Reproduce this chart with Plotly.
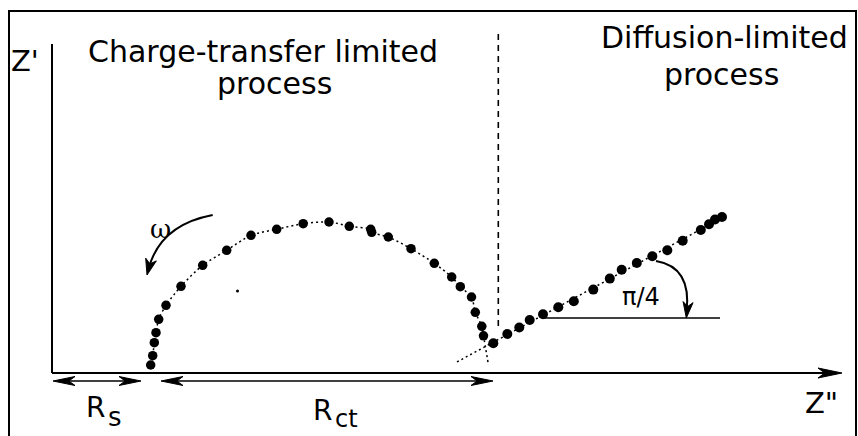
import numpy as np
import plotly.graph_objects as go

# ---- Nyquist diagram data (arbitrary impedance units, origin at the axes corner) ----
# charge-transfer semicircle
semi_x = [98.7, 100.7, 102.3, 104.0, 106.7, 114.0, 129.0, 150.7, 174.7, 199.0, 224.7, 251.2,
          277.0, 297.3, 318.7, 319.7, 336.3, 359.0, 382.3, 399.7, 408.3, 419.5, 423.3, 429.8, 431.5]
semi_y = [8.0, 17.3, 30.3, 40.3, 53.7, 67.7, 86.7, 107.7, 122.7, 137.7, 143.7, 149.3,
          151.0, 146.7, 143.7, 140.7, 136.0, 124.3, 109.7, 96.0, 86.3, 76.0, 60.7, 46.7, 37.2]
semi_tail = (436.3, 9.0)          # where the fitted arc meets the real axis

# diffusion (Warburg) tail
warb_x = [441.3, 455.3, 467.3, 477.7, 491.0, 506.3, 521.8, 541.3, 557.8, 569.7, 584.8, 600.3,
          615.3, 630.7, 648.8, 657.0, 663.0, 670.0]
warb_y = [29.7, 39.0, 45.5, 53.0, 58.7, 65.7, 71.8, 83.4, 94.4, 103.3, 110.0, 116.7,
          122.8, 132.3, 143.0, 148.8, 153.5, 156.0]
warb_fit_span = (405.0, 673.0)

stray_x = [185.5]
stray_y = [82.0]

# resistances marked under the real axis
rs_span = (1.0, 89.0)
rct_span = (109.0, 441.0)
regime_boundary = 446.3           # split between the two regimes
angle_ref_x = (491.0, 668.0)      # horizontal reference for the pi/4 angle
angle_ref_y = 55.0

# ---- canvas ----
W, H = 858, 436
X0, Y0 = 52, 373                  # canvas position of the axes corner
BLACK = "black"
SANS = "DejaVu Sans"

fig = go.Figure()

# fitted curves
fig.add_trace(go.Scatter(
    x=semi_x + [semi_tail[0]], y=semi_y + [semi_tail[1]], mode="lines",
    line=dict(color=BLACK, width=1.5, dash="2px,3px", shape="spline", smoothing=0.8),
    hoverinfo="skip"))
slope, icpt = np.polyfit(warb_x, warb_y, 1)
fx = np.array(warb_fit_span)
fig.add_trace(go.Scatter(
    x=fx, y=slope * fx + icpt, mode="lines",
    line=dict(color=BLACK, width=1.5, dash="2px,3px"), hoverinfo="skip"))

# measured points
fig.add_trace(go.Scatter(x=semi_x, y=semi_y, mode="markers",
                         marker=dict(color=BLACK, size=9.5, line=dict(width=0))))
fig.add_trace(go.Scatter(x=warb_x, y=warb_y, mode="markers",
                         marker=dict(color=BLACK, size=10, line=dict(width=0))))
fig.add_trace(go.Scatter(x=stray_x, y=stray_y, mode="markers",
                         marker=dict(color=BLACK, size=3, line=dict(width=0))))


def head(tip, frm, length, half):
    """Barbed arrowhead at `tip`, pointing away from `frm`."""
    tx, ty = tip
    dx, dy = tx - frm[0], ty - frm[1]
    n = np.hypot(dx, dy)
    ux, uy = dx / n, dy / n
    nx_, ny_ = -uy, ux
    bx, by = tx - length * ux, ty - length * uy
    kx, ky = tx - 0.72 * length * ux, ty - 0.72 * length * uy
    return (f"M {tx},{ty} L {bx + half * nx_},{by + half * ny_} L {kx},{ky} "
            f"L {bx - half * nx_},{by - half * ny_} Z")


shapes = []


def line(x0, y0, x1, y1, width=1.5, dash="solid"):
    shapes.append(dict(type="line", xref="x", yref="y", x0=x0, y0=y0, x1=x1, y1=y1,
                       line=dict(color=BLACK, width=width, dash=dash)))


def filled(path):
    shapes.append(dict(type="path", xref="x", yref="y", path=path, fillcolor=BLACK,
                       line=dict(color=BLACK, width=1)))


# outer frame
shapes.append(dict(type="rect", xref="x", yref="y", x0=9 - X0, x1=856 - X0, y0=Y0 - 11, y1=-90,
                   line=dict(color=BLACK, width=2)))

# axes
axis_end = 790.0
line(0, 0, 0, 329, width=2)
line(0, 0, axis_end - 8, 0, width=2)
filled(head((axis_end, 0), (0, 0), 24, 5))

# Rs and Rct spans
yr = -8
line(rs_span[0] + 6, yr, rs_span[1] - 6, yr)
filled(head((rs_span[0], yr), (rs_span[1], yr), 22, 4.5))
filled(head((rs_span[1], yr), (rs_span[0], yr), 22, 4.5))
line(rct_span[0] + 6, yr, rct_span[1] - 6, yr)
filled(head((rct_span[0], yr), (rct_span[1], yr), 22, 4.5))
filled(head((rct_span[1], yr), (rct_span[0], yr), 22, 4.5))

# regime boundary
line(regime_boundary, 47, regime_boundary, 341, width=1.6, dash="6px,5px")

# angle reference and its curved arrow
line(angle_ref_x[0], angle_ref_y, angle_ref_x[1], angle_ref_y)
a0, a1, a2 = (604.0, 112.0), (640.0, 106.0), (634.5, angle_ref_y + 6)
shapes.append(dict(type="path", xref="x", yref="y",
                   path=f"M {a0[0]},{a0[1]} Q {a1[0]},{a1[1]} {a2[0]},{a2[1]}",
                   line=dict(color=BLACK, width=2)))
filled(head((634.3, angle_ref_y), a1, 16, 5))

# frequency direction arrow
w0, w1, w2 = (160.7, 158.0), (108.0, 148.0), (96.5, 104.0)
shapes.append(dict(type="path", xref="x", yref="y",
                   path=f"M {w0[0]},{w0[1]} Q {w1[0]},{w1[1]} {w2[0]},{w2[1]}",
                   line=dict(color=BLACK, width=2)))
filled(head((95.0, 98.0), w1, 16, 5.5))

fig.update_layout(shapes=shapes)


def text(s, x, y, size, family=SANS):
    fig.add_annotation(x=x, y=y, xref="x", yref="y", text=s, showarrow=False,
                       xanchor="center", yanchor="middle", borderpad=0,
                       font=dict(family=family, size=size, color=BLACK))


text("Z'", 25 - X0, Y0 - 61, 29)
text("Charge-transfer limited", 263 - X0, Y0 - 51, 30)
text("process", 274 - X0, Y0 - 83, 30)
text("Diffusion-limited", 724 - X0, Y0 - 37, 30)
text("process", 721 - X0, Y0 - 74, 30)
text("ω", 160 - X0, Y0 - 229, 26, family="DejaVu Serif")
text("π/4", 641 - X0, Y0 - 297, 24)
# resistance labels: main letter plus a near full-size lowered subscript
text("R", 95 - X0, Y0 - 407, 28)
text("s", 115 - X0, Y0 - 417, 26)
text("R", 322 - X0, Y0 - 410, 28)
text("ct", 346 - X0, Y0 - 419, 24)
text('Z"', 821 - X0, Y0 - 403, 29)

fig.update_layout(
    width=W, height=H, margin=dict(l=0, r=0, t=0, b=0),
    paper_bgcolor="white", plot_bgcolor="white", showlegend=False,
    xaxis=dict(range=[-X0, W - X0], visible=False, fixedrange=True),
    yaxis=dict(range=[Y0 - H, Y0], visible=False, fixedrange=True),
)

fig.write_html("out.html")
